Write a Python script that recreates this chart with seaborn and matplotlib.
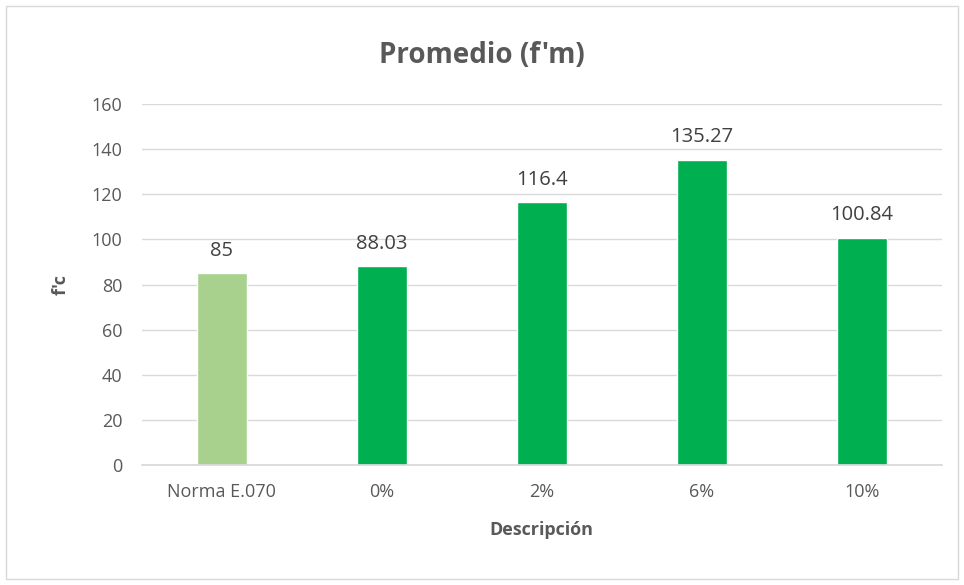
import matplotlib
matplotlib.use("Agg")
import matplotlib.pyplot as plt
import pandas as pd
import seaborn as sns
from matplotlib.patches import Rectangle

# Data
categories = ["Norma E.070", "0%", "2%", "6%", "10%"]
values = [85, 88.03, 116.4, 135.27, 100.84]
labels = ["85", "88.03", "116.4", "135.27", "100.84"]
colors = ["#A9D18E", "#00B050", "#00B050", "#00B050", "#00B050"]

df = pd.DataFrame({"cat": categories, "val": values})

sns.set_theme(style="white")
plt.rcParams["font.family"] = ["Open Sans", "DejaVu Sans"]
txt = "#595959"

fig = plt.figure(figsize=(9.64, 5.85), dpi=100)
ax = fig.add_axes([0.147, 0.205, 0.83, 0.617])

sns.barplot(data=df, x="cat", y="val", hue="cat", palette=colors,
            legend=False, width=0.31, saturation=1, ax=ax)

for p, lab in zip(ax.patches, labels):
    ax.annotate(lab, (p.get_x() + p.get_width() / 2, p.get_height()),
                xytext=(0, 9), textcoords="offset points",
                ha="center", va="bottom", fontsize=14.5, color="#404040")

ax.set_ylim(0, 160)
ax.set_yticks(range(0, 161, 20))
ax.set_xlim(-0.5, 4.5)
ax.yaxis.grid(True, color="#D9D9D9", linewidth=1)
ax.set_axisbelow(True)
for s in ["top", "right", "left"]:
    ax.spines[s].set_visible(False)
ax.spines["bottom"].set_color("#D9D9D9")
ax.tick_params(axis="x", length=0, labelsize=13, labelcolor=txt, pad=13)
ax.tick_params(axis="y", length=0, labelsize=13, labelcolor=txt, pad=14)

ax.set_xlabel("Descripción", fontsize=13, fontweight="bold", color=txt, labelpad=14)
ax.set_ylabel("f'c", fontsize=13, fontweight="bold", color=txt, labelpad=16)
fig.text(0.5, 0.905, "Promedio (f'm)", ha="center", va="center",
         fontsize=20, fontweight="bold", color=txt)

fig.patches.append(Rectangle((0.006, 0.01), 0.988, 0.98, transform=fig.transFigure,
                             fill=False, edgecolor="#D9D9D9", linewidth=1))

fig.savefig("out.png", dpi=100)
